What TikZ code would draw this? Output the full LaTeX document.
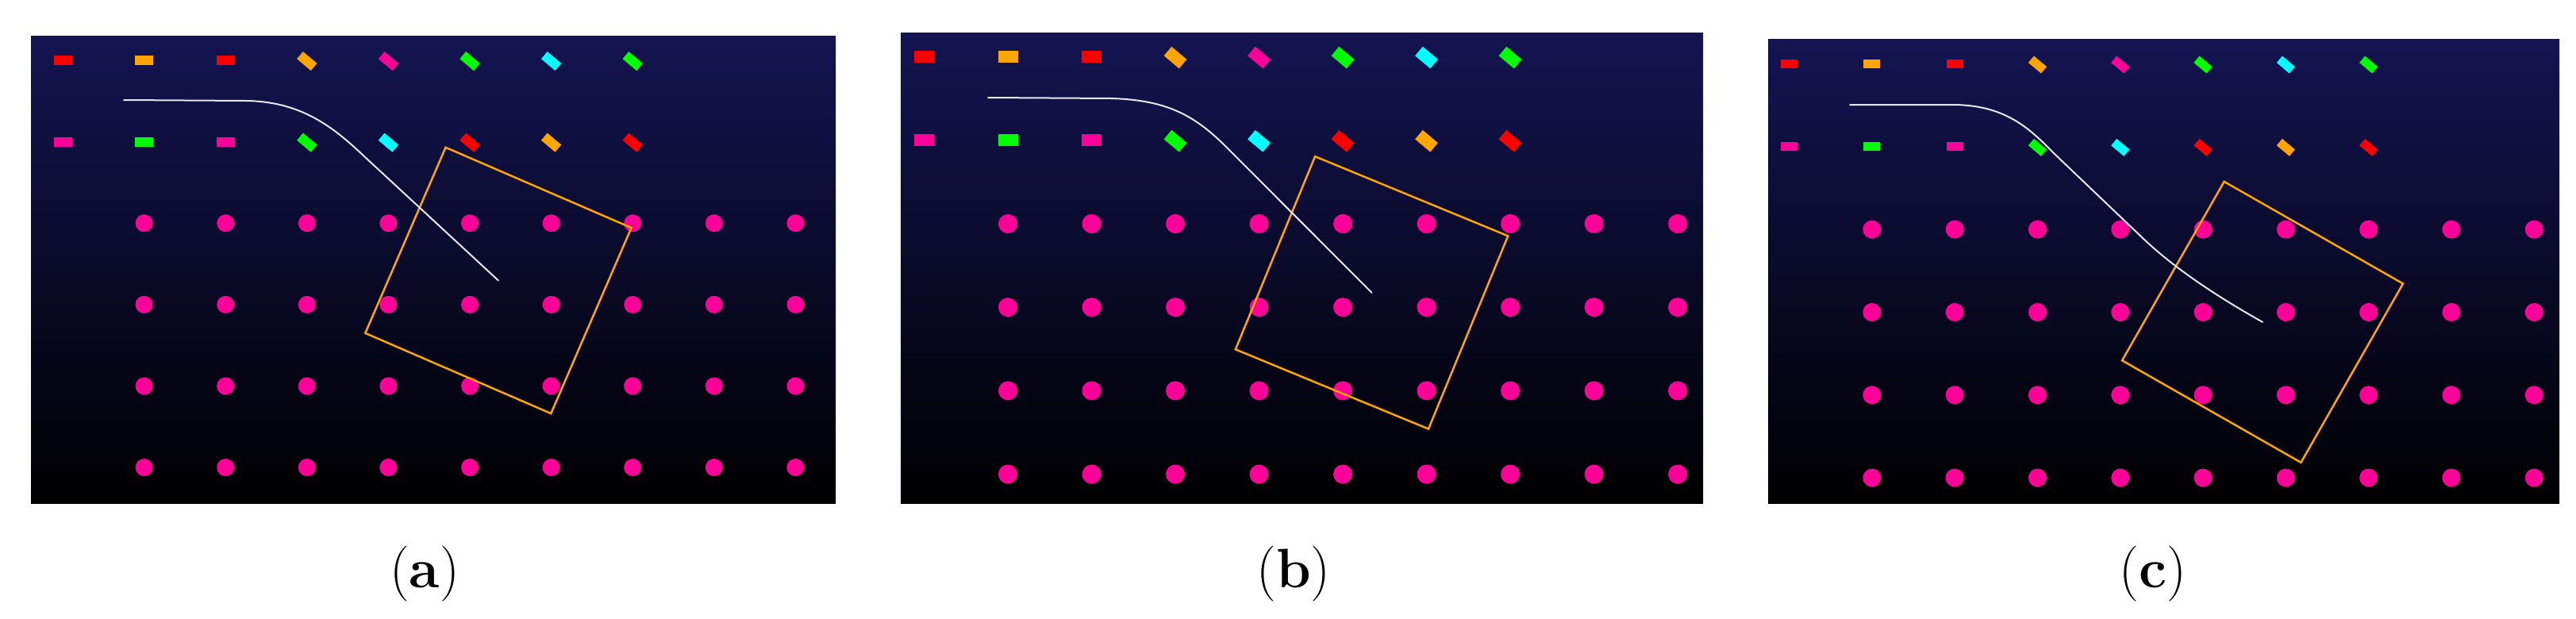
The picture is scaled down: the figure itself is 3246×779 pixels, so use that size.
\documentclass[tikz,border=0pt]{standalone}
\definecolor{pk}{HTML}{FF0099}
\definecolor{og}{HTML}{FFA500}
\definecolor{gn}{HTML}{00FF00}
\definecolor{cy}{HTML}{00FFFF}
\definecolor{rd}{HTML}{FF0000}
\definecolor{bgtop}{HTML}{141452}
\definecolor{bgbot}{HTML}{000000}
\definecolor{trail}{HTML}{E6E6F0}
\tikzset{
  icon/.style={fill=#1, draw=none, inner sep=0pt, outer sep=0pt, rectangle},
  dot/.style={circle, fill=pk, draw=none, inner sep=0pt, outer sep=0pt},
  panelbg/.style={top color=bgtop, bottom color=bgbot, draw=none},
  trailline/.style={draw=trail, line width=2pt, line cap=round, line join=round},
  bbox/.style={draw=og, line width=2.5pt, fill=none, rectangle, inner sep=0pt, outer sep=0pt},
  captiontext/.style={font=\fontsize{70}{84}\selectfont, inner sep=0pt}
}
% #1 name, #2 x0, #3 y0, #4 dx, #5 dy, #6 icon width, #7 icon height, #8 dot size
\newcommand\drawpanel[8]{%
  \foreach \k/\ca/\cb in {0/rd/pk,1/og/gn,2/rd/pk}{%
    \node[icon=\ca, minimum width=#6, minimum height=#7] (#1-t\k) at ({#2+\k*#4},{#3}) {};
    \node[icon=\cb, minimum width=#6, minimum height=#7] (#1-b\k) at ({#2+\k*#4},{#3+#5}) {};
  }%
  \foreach \k/\ca/\cb in {3/og/gn,4/pk/cy,5/gn/rd,6/cy/og,7/gn/rd}{%
    \node[icon=\ca, rotate=-40, minimum width=#6, minimum height=#7] (#1-t\k) at ({#2+\k*#4},{#3+1}) {};
    \node[icon=\cb, rotate=-40, minimum width=#6, minimum height=#7] (#1-b\k) at ({#2+\k*#4},{#3+#5+1}) {};
  }%
  \foreach \r in {2,...,5}{%
    \foreach \k in {1,...,9}{%
      \node[dot, minimum size=#8] (#1-d\r\k) at ({#2+\k*#4},{#3+\r*#5}) {};
    }%
  }%
}
\begin{document}
\begin{tikzpicture}[x=1pt, y=-1pt]
  \fill[white] (0,0) rectangle (3246,779);
  \useasboundingbox (0,0) rectangle (3246,779);

  % backgrounds
  \shade[panelbg] (39,45) rectangle (1053,634);
  \shade[panelbg] (1135,41) rectangle (2146,634);
  \shade[panelbg] (2228,49) rectangle (3225,634);

  % panel contents
  \drawpanel{a}{79}{76}{102.6}{102.6}{23pt}{12pt}{22pt}
  \drawpanel{b}{1164.5}{71.5}{105.5}{105.2}{25pt}{15pt}{24pt}
  \drawpanel{c}{2254.5}{80.5}{104.3}{104.3}{21pt}{11pt}{23pt}

  % orange boxes
  \node[bbox, minimum width=255pt, minimum height=255pt, rotate=-23.4] (sqa) at (627.9,353.4) {};
  \node[bbox, minimum width=263pt, minimum height=263pt, rotate=-22.4] (sqb) at (1728.5,368.8) {};
  \node[bbox, minimum width=259.5pt, minimum height=259.5pt, rotate=-29.7] (sqc) at (2851,405.8) {};

  % trails
  \coordinate (sa) at (156,126);
  \coordinate (sb) at (1245,123);
  \coordinate (sc) at (2331,132);
  \draw[trailline] (sa) -- (310,127) .. controls (380,128) and (420,160) .. (460,198) -- (sqa.center);
  \draw[trailline] (sb) -- (1400,124) .. controls (1470,126) and (1505,145) .. (1545,185) -- (sqb.center);
  \draw[trailline] (sc) -- (2460,132) .. controls (2530,132) and (2560,165) .. (2590,195) -- (2700,300) .. controls (2745,343) and (2805,380) .. (sqc.center);

  % captions
  \node[captiontext] (capa) at (535,723) {(\textbf{a})};
  \node[captiontext] (capb) at (1630,723) {(\textbf{b})};
  \node[captiontext] (capc) at (2713,723) {(\textbf{c})};
\end{tikzpicture}
\end{document}
